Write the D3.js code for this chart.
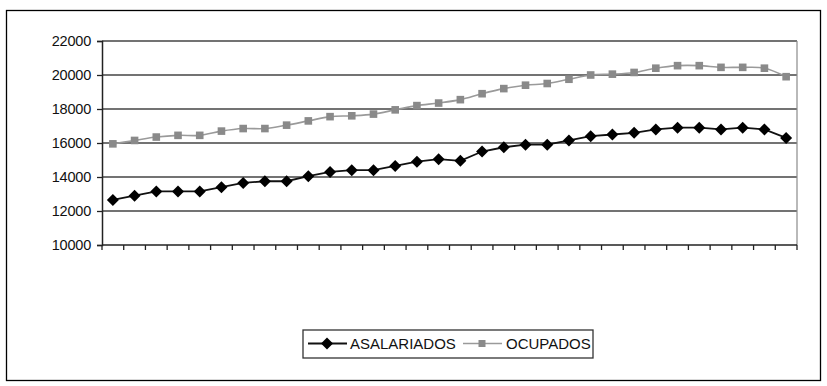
<!DOCTYPE html>
<html>
<head>
<meta charset="utf-8">
<script src="https://cdn.jsdelivr.net/npm/d3@7"></script>
<style>
  html, body { margin: 0; padding: 0; background: #fff; }
  svg { display: block; }
  text { font-family: "Liberation Sans", Arial, sans-serif; fill: #111; }
</style>
</head>
<body>
<svg id="chart" width="827" height="386"></svg>
<script>
// Periods along the x axis (unlabelled on the chart)
const periods = ["1","2","3","4","5","6","7","8","9","10","11","12","13","14","15","16",
                 "17","18","19","20","21","22","23","24","25","26","27","28","29","30","31","32"];

const asalariados = [12650, 12900, 13150, 13150, 13150, 13400, 13650, 13750,
                     13750, 14050, 14300, 14400, 14400, 14650, 14900, 15050,
                     14950, 15500, 15750, 15900, 15900, 16150, 16400, 16500,
                     16600, 16800, 16900, 16900, 16800, 16900, 16800, 16300];

const ocupados = [15950, 16150, 16350, 16450, 16450, 16700, 16850, 16850,
                  17050, 17300, 17550, 17600, 17700, 17950, 18200, 18350,
                  18550, 18900, 19200, 19400, 19500, 19750, 20000, 20050,
                  20150, 20400, 20550, 20550, 20450, 20450, 20400, 19900];

const yTicks = [10000, 12000, 14000, 16000, 18000, 20000, 22000];
const seriesNames = ["ASALARIADOS", "OCUPADOS"];

const svg = d3.select("#chart");

// outer frame
svg.append("rect")
  .attr("x", 6.5).attr("y", 10.5).attr("width", 814).attr("height", 370)
  .attr("fill", "#fff").attr("stroke", "#000").attr("stroke-width", 1.3);

const plot = { left: 102, right: 797, top: 41, bottom: 245 };

const x = d3.scaleBand().domain(periods).range([plot.left, plot.right]);
const y = d3.scaleLinear().domain([10000, 22000]).range([plot.bottom, plot.top]);
const cx = d => x(d) + x.bandwidth() / 2;

// gridlines
svg.append("g")
  .selectAll("line")
  .data(yTicks.slice(1))
  .join("line")
  .attr("x1", plot.left).attr("x2", plot.right)
  .attr("y1", d => y(d)).attr("y2", d => y(d))
  .attr("stroke", "#444").attr("stroke-width", 1.7);

// right edge of plot area
svg.append("line")
  .attr("x1", plot.right).attr("x2", plot.right)
  .attr("y1", plot.top).attr("y2", plot.bottom)
  .attr("stroke", "#8a8a8a").attr("stroke-width", 1.2);

// y axis
const yAxis = d3.axisLeft(y).tickValues(yTicks).tickSize(5).tickPadding(6)
  .tickFormat(d3.format("d"));
const gy = svg.append("g").attr("transform", `translate(${plot.left},0)`).call(yAxis);
gy.select(".domain").attr("stroke", "#222").attr("stroke-width", 1.5);
gy.selectAll(".tick line").attr("stroke", "#222").attr("stroke-width", 1.3);
gy.selectAll(".tick text").attr("font-size", 14.5).attr("fill", "#111")
  .attr("font-family", "'Liberation Sans', Arial, sans-serif").attr("letter-spacing", -0.2);

// x axis: ticks at category boundaries, no labels
const gx = svg.append("g").attr("transform", `translate(0,${plot.bottom})`);
gx.append("line")
  .attr("x1", plot.left).attr("x2", plot.right)
  .attr("stroke", "#222").attr("stroke-width", 1.5);
const boundaries = periods.map(p => x(p)).concat([x.range()[1]]);
gx.selectAll("line.tk")
  .data(boundaries)
  .join("line").attr("class", "tk")
  .attr("x1", d => d).attr("x2", d => d)
  .attr("y1", 0).attr("y2", 5)
  .attr("stroke", "#222").attr("stroke-width", 1.3);

// OCUPADOS (smoothed gray line with squares)
const lineSmooth = d3.line().x((d, i) => cx(periods[i])).y(d => y(d)).curve(d3.curveCatmullRom.alpha(0.5));
svg.append("path")
  .datum(ocupados)
  .attr("d", lineSmooth)
  .attr("fill", "none").attr("stroke", "#9a9a9a").attr("stroke-width", 1.6);
svg.append("g").selectAll("rect")
  .data(ocupados)
  .join("rect")
  .attr("x", (d, i) => cx(periods[i]) - 3.8)
  .attr("y", d => y(d) - 3.8)
  .attr("width", 7.6).attr("height", 7.6)
  .attr("fill", "#8a8a8a");

// ASALARIADOS (black line with diamonds)
const lineStraight = d3.line().x((d, i) => cx(periods[i])).y(d => y(d));
svg.append("path")
  .datum(asalariados)
  .attr("d", lineStraight)
  .attr("fill", "none").attr("stroke", "#111").attr("stroke-width", 1.8);
const diamond = "M0,-6L6,0L0,6L-6,0Z";
svg.append("g").selectAll("path")
  .data(asalariados)
  .join("path")
  .attr("d", diamond)
  .attr("transform", (d, i) => `translate(${cx(periods[i])},${y(d)})`)
  .attr("fill", "#000");

// legend
const lg = svg.append("g");
lg.append("rect")
  .attr("x", 303).attr("y", 330).attr("width", 290).attr("height", 28)
  .attr("fill", "#fff").attr("stroke", "#333").attr("stroke-width", 1.3);
const ly = 343.5;
lg.append("line").attr("x1", 308).attr("x2", 347).attr("y1", ly).attr("y2", ly)
  .attr("stroke", "#111").attr("stroke-width", 1.8);
lg.append("path").attr("d", diamond).attr("transform", `translate(327,${ly})`).attr("fill", "#000");
lg.append("text").attr("x", 350).attr("y", ly).attr("dy", "0.36em")
  .attr("font-size", 15).text(seriesNames[0]);
lg.append("line").attr("x1", 463).attr("x2", 502).attr("y1", ly).attr("y2", ly)
  .attr("stroke", "#9a9a9a").attr("stroke-width", 1.6);
lg.append("rect").attr("x", 482 - 3.5).attr("y", ly - 3.5).attr("width", 7).attr("height", 7)
  .attr("fill", "#8a8a8a");
lg.append("text").attr("x", 506).attr("y", ly).attr("dy", "0.36em")
  .attr("font-size", 15).text(seriesNames[1]);
</script>
</body>
</html>
